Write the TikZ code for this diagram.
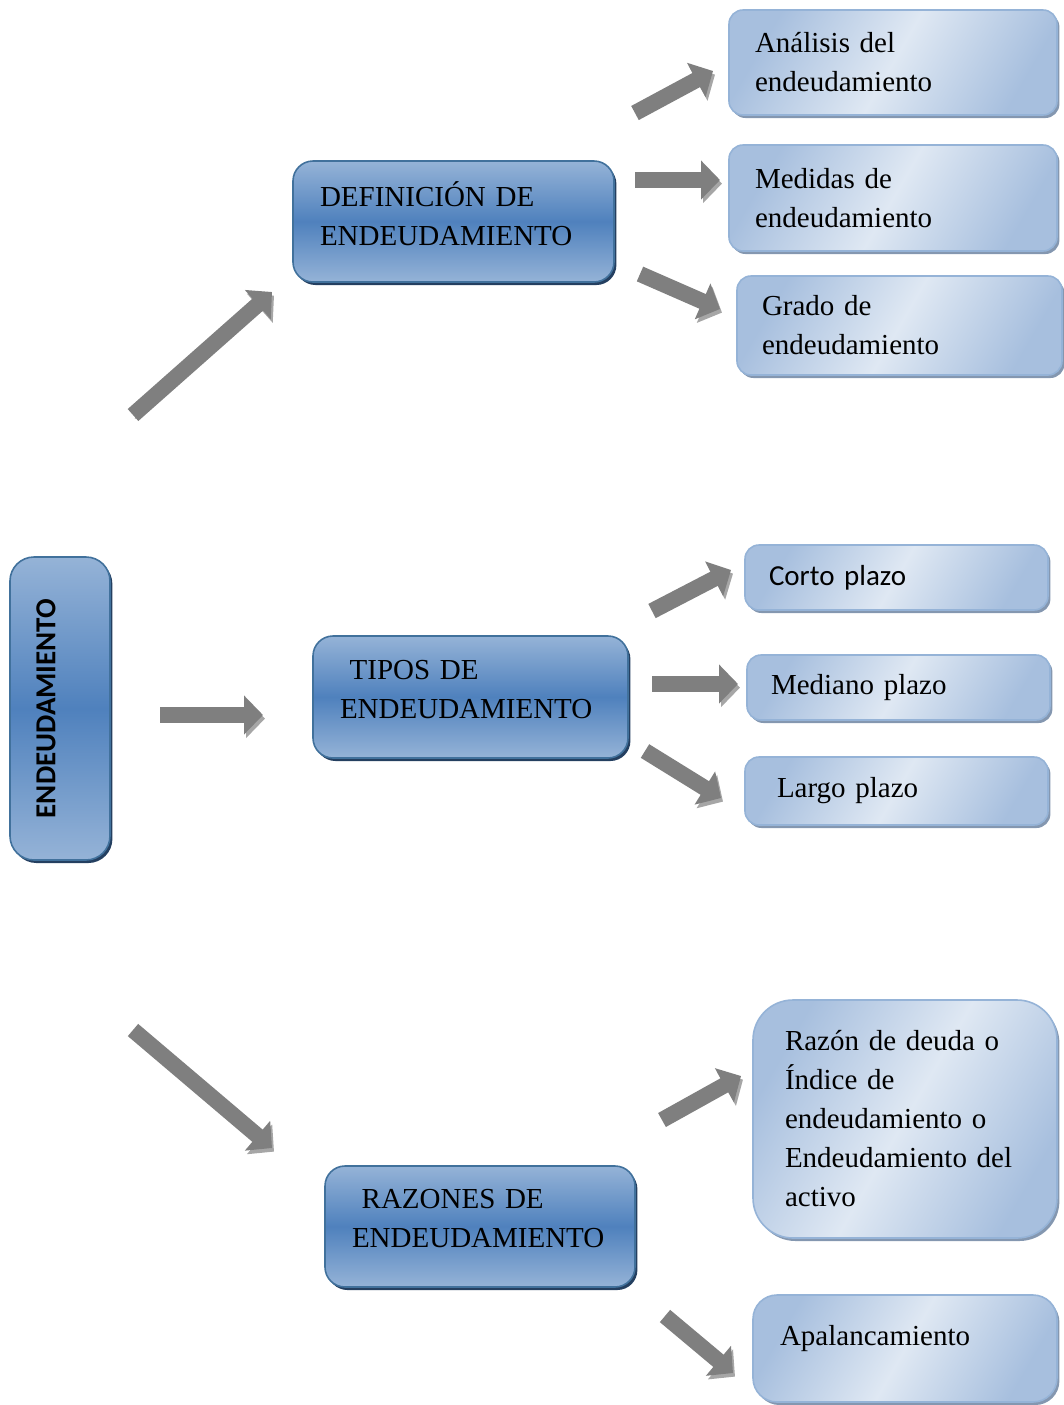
\documentclass[tikz,border=0pt]{standalone}
\usepackage{fontspec}
\setmainfont{Liberation Serif}
\newfontfamily\calibri{Carlito}
\usepackage{graphicx}
\usetikzlibrary{arrows.meta,shadows}

\definecolor{boxtop}{HTML}{95B3D7}
\definecolor{boxmid}{HTML}{4F81BD}
\definecolor{boxline}{HTML}{41719C}
\definecolor{boxshade}{HTML}{243F60}
\definecolor{leafblue}{HTML}{A7BFDE}
\definecolor{leafwhite}{HTML}{DFE8F3}
\definecolor{leafline}{HTML}{95B3D7}
\definecolor{leafshade}{HTML}{8497B0}
\definecolor{arrowgray}{HTML}{7F7F7F}
\definecolor{arrowshade}{HTML}{A6A6A6}

\begin{document}
\begin{tikzpicture}[
    x=0.5pt, y=-0.5pt,
    font=\fontsize{14.5}{19.5}\selectfont,
    topic/.style={rectangle, rounded corners=10pt, draw=boxline, line width=0.8pt,
        top color=boxtop, bottom color=boxtop, middle color=boxmid,
        drop shadow={shadow xshift=1.2pt, shadow yshift=-1.5pt, fill=boxshade, opacity=1},
        align=left, inner xsep=13.5pt},
    leaf/.style={rectangle, rounded corners=7pt, draw=leafline, line width=0.8pt,
        left color=leafblue, right color=leafblue, middle color=leafwhite, shading angle=60,
        drop shadow={shadow xshift=1.2pt, shadow yshift=-1.5pt, fill=leafshade, opacity=1},
        align=left},
    blockarrow/.style={draw=arrowgray, line width=8pt, -{Triangle[width=19pt,length=9.5pt]},
        preaction={draw=arrowshade, transform canvas={shift={(1pt,-1.8pt)}}}}
]
    \useasboundingbox (0,0) rectangle (1064,1405);

    % main topics
    \node[topic, rounded corners=12pt, minimum width=50pt, minimum height=151.5pt, inner xsep=0pt] (root) at (60,708.5)
        {\rotatebox{90}{\calibri\bfseries ENDEUDAMIENTO}\hspace*{14pt}};
    \node[topic, text width=133.5pt, minimum height=60.5pt, text depth=27.5pt] (def) at (453.5,221.5) {DEFINICIÓN DE\\ENDEUDAMIENTO};
    \node[topic, text width=130.5pt, minimum height=61pt, text depth=27.5pt] (tipos) at (470.5,697) {~TIPOS DE\\ENDEUDAMIENTO};
    \node[topic, text width=128pt, minimum height=60.5pt, text depth=27.5pt] (razones) at (480,1226.5) {~RAZONES DE\\ENDEUDAMIENTO};

    % leaves
    \node[leaf, inner xsep=13pt, text width=138pt, minimum height=52.5pt] (analisis) at (893,62.5) {Análisis del\\endeudamiento};
    \node[leaf, inner xsep=13pt, text width=138pt, minimum height=53pt] (medidas) at (893,198) {Medidas de\\endeudamiento};
    \node[leaf, inner xsep=12.5pt, text width=137.5pt, minimum height=49.5pt] (grado) at (899.5,325.5) {Grado de\\endeudamiento};
    \node[leaf, inner xsep=12pt, text width=127.5pt, minimum height=32.5pt] (corto) at (896.5,577.5) {\calibri Corto plazo};
    \node[leaf, inner xsep=12pt, text width=127.5pt, minimum height=32.5pt] (mediano) at (898.5,687.5) {Mediano plazo};
    \node[leaf, inner xsep=16pt, text width=119.5pt, minimum height=34pt] (largo) at (896.5,791) {Largo plazo};
    \node[leaf, rounded corners=20pt, inner xsep=16pt, text width=120pt, minimum height=119pt] (razon) at (905,1119)
        {Razón de deuda o\\Índice de\\endeudamiento o\\Endeudamiento del\\activo};
    \node[leaf, rounded corners=12pt, inner xsep=13.5pt, text width=125pt, minimum height=53.5pt, text depth=13.5pt] (apal) at (905,1348.5) {Apalancamiento};

    % arrow ends
    \coordinate (root-def-a) at (133,415);    \coordinate (root-def-b) at (272,292);
    \coordinate (root-tipos-a) at (160,715);  \coordinate (root-tipos-b) at (263,715);
    \coordinate (root-raz-a) at (133,1030);   \coordinate (root-raz-b) at (272,1148);
    \coordinate (def-anal-a) at (635,113);    \coordinate (def-anal-b) at (713,71);
    \coordinate (def-med-a) at (635,180);     \coordinate (def-med-b) at (720,180);
    \coordinate (def-gra-a) at (640,274);     \coordinate (def-gra-b) at (720,309);
    \coordinate (tip-cor-a) at (652,611);     \coordinate (tip-cor-b) at (731,570);
    \coordinate (tip-med-a) at (652,684);     \coordinate (tip-med-b) at (738,684);
    \coordinate (tip-lar-a) at (645,751);     \coordinate (tip-lar-b) at (721,798);
    \coordinate (raz-raz-a) at (662,1120);    \coordinate (raz-raz-b) at (741,1076);
    \coordinate (raz-apa-a) at (665,1316);    \coordinate (raz-apa-b) at (733,1373);

    \draw[blockarrow] (root-def-a) -- (root-def-b);
    \draw[blockarrow] (root-tipos-a) -- (root-tipos-b);
    \draw[blockarrow] (root-raz-a) -- (root-raz-b);
    \draw[blockarrow] (def-anal-a) -- (def-anal-b);
    \draw[blockarrow] (def-med-a) -- (def-med-b);
    \draw[blockarrow] (def-gra-a) -- (def-gra-b);
    \draw[blockarrow] (tip-cor-a) -- (tip-cor-b);
    \draw[blockarrow] (tip-med-a) -- (tip-med-b);
    \draw[blockarrow] (tip-lar-a) -- (tip-lar-b);
    \draw[blockarrow] (raz-raz-a) -- (raz-raz-b);
    \draw[blockarrow] (raz-apa-a) -- (raz-apa-b);
\end{tikzpicture}
\end{document}
